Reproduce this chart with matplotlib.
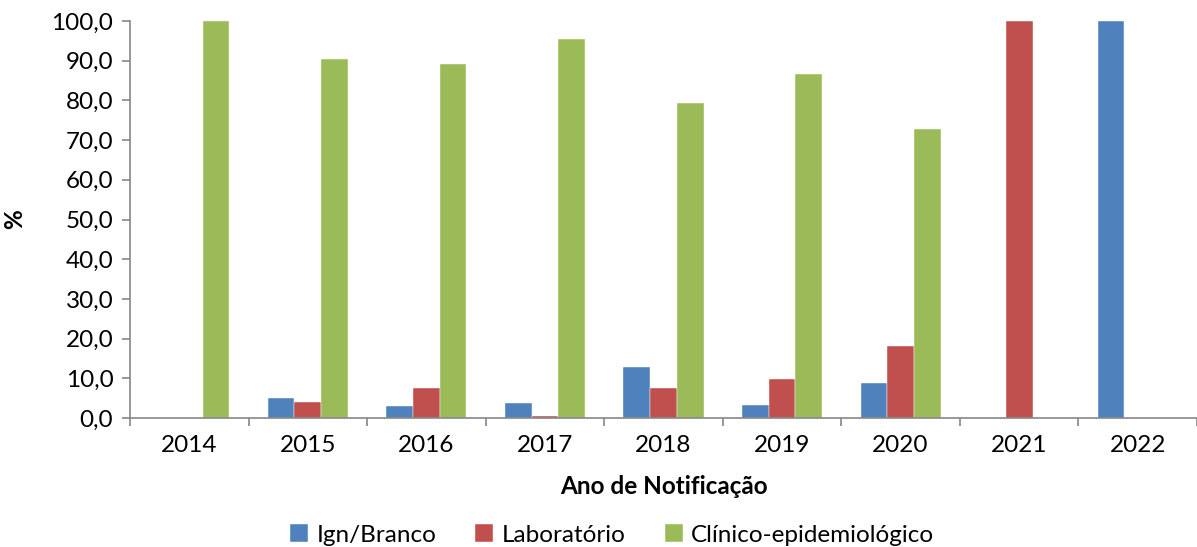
import matplotlib
matplotlib.use("Agg")
import matplotlib.pyplot as plt
import numpy as np
from matplotlib.ticker import FuncFormatter

years = ["2014", "2015", "2016", "2017", "2018", "2019", "2020", "2021", "2022"]
ign_branco = [0.0, 5.1, 2.9, 3.7, 12.8, 3.2, 8.9, 0.0, 100.0]
laboratorio = [0.0, 4.1, 7.6, 0.4, 7.6, 9.9, 18.1, 100.0, 0.0]
clinico = [100.0, 90.4, 89.2, 95.5, 79.3, 86.7, 72.7, 0.0, 0.0]

series = [("Ign/Branco", ign_branco, "#4f81bd"),
          ("Laboratório", laboratorio, "#c0504d"),
          ("Clínico-epidemiológico", clinico, "#9bbb59")]

plt.rcParams['font.family'] = ['Lato', 'DejaVu Sans']
FS = 17.5

fig = plt.figure(figsize=(11.97, 5.47), dpi=100)
ax = fig.add_axes([130/1197, 1 - 418/547, 1 - 130/1197, (418 - 21)/547])

x = np.arange(len(years))
w = 0.225
for i, (name, vals, col) in enumerate(series):
    ax.bar(x + (i - 1) * w, vals, width=w, color=col, label=name,
           edgecolor="white", linewidth=0.3)

ax.set_xlim(-0.5, len(years) - 0.5)
ax.set_ylim(0, 100)
ax.set_yticks(np.arange(0, 101, 10))
ax.yaxis.set_major_formatter(FuncFormatter(lambda v, p: f"{v:.1f}".replace(".", ",")))
ax.set_xticks(x)
ax.set_xticklabels(years)
ax.set_xticks(np.arange(-0.5, len(years), 1), minor=True)
ax.tick_params(axis="x", which="major", length=0, labelsize=FS, pad=12)
ax.tick_params(axis="x", which="minor", length=6, color="#868686", width=1.2, direction="out")
ax.tick_params(axis="y", length=6, color="#868686", width=1.2, labelsize=FS, pad=6)

for s in ["top", "right"]:
    ax.spines[s].set_visible(False)
for s in ["left", "bottom"]:
    ax.spines[s].set_color("#868686")
    ax.spines[s].set_linewidth(1.2)

ax.set_ylabel("%", fontsize=FS, fontweight="bold", labelpad=18)
ax.set_xlabel("Ano de Notificação", fontsize=FS, fontweight="bold", labelpad=14)

ax.legend(loc="center", bbox_to_anchor=((612 - 130) / (1197 - 130), -(535 - 418) / 397),
          ncol=3, frameon=False,
          fontsize=FS, handlelength=0.75, handleheight=0.75, handletextpad=0.35,
          columnspacing=1.6)

fig.savefig("out.png", dpi=100)
